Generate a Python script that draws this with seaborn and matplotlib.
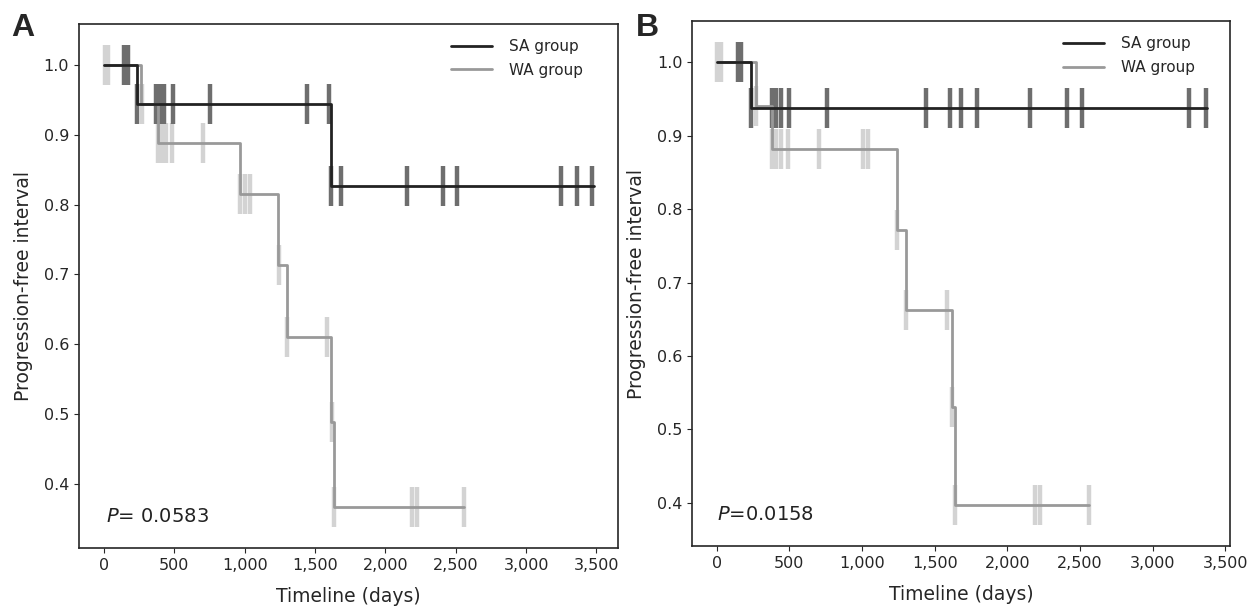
import numpy as np
import matplotlib
matplotlib.use('Agg')
import matplotlib.pyplot as plt
from matplotlib.ticker import FuncFormatter
import seaborn as sns

# panel A: step curves (time in days, survival) and censor times
a_sa_time = [0, 235, 1610, 3485]
a_sa_surv = [1.0, 0.945, 0.827, 0.827]
a_sa_cens = [145, 170, 238, 370, 400, 430, 491, 754, 1441, 1600, 1613, 1684, 2155, 2408, 2512, 3250, 3364, 3471]

a_wa_time = [0, 263, 381, 965, 1240, 1303, 1617, 1636, 2560]
a_wa_surv = [1.0, 0.944, 0.889, 0.815, 0.713, 0.611, 0.489, 0.367, 0.367]
a_wa_cens = [5, 30, 268, 384, 410, 440, 481, 706, 968, 1000, 1035, 1241, 1304, 1586, 1618, 1638, 2190, 2225, 2560]

# panel B
b_sa_time = [0, 236, 3375]
b_sa_surv = [1.0, 0.938, 0.938]
b_sa_cens = [145, 170, 237, 380, 410, 440, 498, 757, 1440, 1606, 1682, 1792, 2156, 2409, 2514, 3250, 3367]

b_wa_time = [0, 268, 379, 1239, 1303, 1619, 1640, 2563]
b_wa_surv = [1.0, 0.941, 0.882, 0.772, 0.662, 0.531, 0.397, 0.397]
b_wa_cens = [5, 30, 270, 384, 410, 440, 489, 706, 1010, 1040, 1241, 1304, 1587, 1621, 1641, 2190, 2225, 2563]

p_values = ['$P$= 0.0583', '$P$=0.0158']
panel_letters = ['A', 'B']

sns.set_style('ticks')
plt.rcParams['font.family'] = ['DejaVu Sans']

sa_line, wa_line = '#222222', '#999999'
sa_mark, wa_mark = '#6e6e6e', '#d3d3d3'


def level_at(times, surv, t):
    idx = np.searchsorted(times, t, side='right') - 1
    return np.asarray(surv)[idx]


def draw_panel(ax, sa, wa, pval, ptx):
    (st, ss, sc), (wt, ws, wc) = sa, wa
    ax.plot(wc, level_at(wt, ws, wc), ls='none', marker='|', ms=29, mew=3.2, color=wa_mark, zorder=2)
    ax.plot(sc, level_at(st, ss, sc), ls='none', marker='|', ms=29, mew=3.2, color=sa_mark, zorder=2)
    sns.lineplot(x=wt, y=ws, drawstyle='steps-post', estimator=None, color=wa_line, lw=2,
                 label='WA group', ax=ax, zorder=3)
    sns.lineplot(x=st, y=ss, drawstyle='steps-post', estimator=None, color=sa_line, lw=2,
                 label='SA group', ax=ax, zorder=4)
    handles, labels = ax.get_legend_handles_labels()
    ax.legend(handles[::-1], labels[::-1], loc='upper right', bbox_to_anchor=(0.963, 1.0),
              frameon=False, fontsize=11, handlelength=2.7, handletextpad=1.1,
              labelspacing=0.55, borderaxespad=0.6)
    ax.xaxis.set_major_formatter(FuncFormatter(lambda v, p: f'{v:,.0f}'))
    ax.set_xticks(np.arange(0, 3501, 500))
    ax.set_yticks(np.arange(0.4, 1.01, 0.1))
    ax.set_xlabel('Timeline (days)', fontsize=13.5, labelpad=10)
    ax.set_ylabel('Progression-free interval', fontsize=13.5, labelpad=8)
    ax.tick_params(labelsize=11.5)
    ax.text(ptx, 0.05, pval, transform=ax.transAxes, fontsize=14, color='#222222')
    for s in ax.spines.values():
        s.set_linewidth(1.2)


fig = plt.figure(figsize=(12.57, 6.06), dpi=100)
ax1 = fig.add_axes([0.0628, 0.0957, 0.4288, 0.8647])
ax2 = fig.add_axes([0.5505, 0.099, 0.428, 0.866])

draw_panel(ax1, (a_sa_time, a_sa_surv, a_sa_cens), (a_wa_time, a_wa_surv, a_wa_cens), p_values[0], 0.05)
ax1.set_xlim(-178, 3653)
ax1.set_ylim(0.308, 1.059)

draw_panel(ax2, (b_sa_time, b_sa_surv, b_sa_cens), (b_wa_time, b_wa_surv, b_wa_cens), p_values[1], 0.046)
ax2.set_xlim(-170, 3532)
ax2.set_ylim(0.341, 1.056)

fig.text(0.009, 0.94, panel_letters[0], fontsize=23, fontweight='bold', family='Liberation Sans')
fig.text(0.506, 0.94, panel_letters[1], fontsize=23, fontweight='bold', family='Liberation Sans')

fig.savefig('out.png', dpi=100)
